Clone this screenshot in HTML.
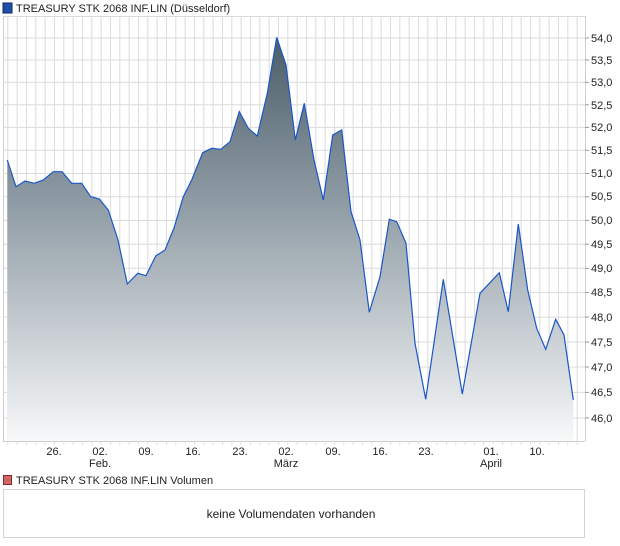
<!DOCTYPE html>
<html><head><meta charset="utf-8"><style>
body{margin:0;background:#fff;width:620px;height:546px;overflow:hidden;font-family:"Liberation Sans",sans-serif}
</style></head><body>
<svg width="620" height="546" xmlns="http://www.w3.org/2000/svg" style="position:absolute;left:0;top:0">
<defs>
<linearGradient id="g" x1="0" y1="37" x2="0" y2="441" gradientUnits="userSpaceOnUse">
<stop offset="0" stop-color="#4b5d69"/>
<stop offset="0.4" stop-color="#8d9aa3"/>
<stop offset="1" stop-color="#f7f8f9"/>
</linearGradient>
<pattern id="vg" x="7.3" y="0" width="9.3333" height="10" patternUnits="userSpaceOnUse">
<rect x="0" y="0" width="1" height="10" fill="#dcdcdc"/>
</pattern>
</defs>
<rect x="3" y="3" width="9" height="10" fill="#1f4fa8" stroke="#0d2a66" stroke-width="1"/>
<text x="16" y="12" font-size="11" fill="#222">TREASURY STK 2068 INF.LIN (Düsseldorf)</text>
<rect x="4" y="16" width="581" height="425" fill="url(#vg)"/>
<g stroke="#dcdcdc" stroke-width="1">
<line x1="3" x2="585" y1="16.5" y2="16.5"/>
<line x1="3" x2="585" y1="38" y2="38"/><line x1="3" x2="585" y1="60" y2="60"/><line x1="3" x2="585" y1="82.3" y2="82.3"/><line x1="3" x2="585" y1="104.8" y2="104.8"/><line x1="3" x2="585" y1="127.4" y2="127.4"/><line x1="3" x2="585" y1="150.3" y2="150.3"/><line x1="3" x2="585" y1="173.5" y2="173.5"/><line x1="3" x2="585" y1="196.8" y2="196.8"/><line x1="3" x2="585" y1="220.4" y2="220.4"/><line x1="3" x2="585" y1="244.2" y2="244.2"/><line x1="3" x2="585" y1="268.3" y2="268.3"/><line x1="3" x2="585" y1="292.6" y2="292.6"/><line x1="3" x2="585" y1="317.1" y2="317.1"/><line x1="3" x2="585" y1="342" y2="342"/><line x1="3" x2="585" y1="367" y2="367"/><line x1="3" x2="585" y1="392.4" y2="392.4"/><line x1="3" x2="585" y1="418" y2="418"/>
</g>
<polygon fill="url(#g)" points="7.3,441 7.3,160 16,186.7 25,181 34.3,183.3 43.3,180 53.3,171.7 62,171.7 71.7,183.3 81.7,183.3 90.7,196.7 99.3,199 108.3,210 118,240 127.3,284 137.7,273.3 146,275.7 155.7,256 165,250 174,228 183.3,196.7 191.7,180 202.7,152.7 211.7,148.3 220.7,149.3 230,141.7 239.3,111.7 248.3,128.3 257.3,136 267.3,93.3 276.7,37.3 286,65 295.3,140 304.3,103.3 314,160 323.3,200 332.7,135 341.7,130 351,211.7 360,240 369.3,312.3 380,276.7 389.3,219.3 396.7,221.7 406,243.3 415,343.3 425.7,399.3 443.3,279.3 462.3,394 480,293.3 499.3,272.7 508.3,311.7 518.3,224 527.7,290 536.7,328.3 545.7,349.3 555.7,319.3 564,335 573.3,400 573.3,441"/>
<polyline fill="none" stroke="#1a56c8" stroke-width="1.2" points="7.3,160 16,186.7 25,181 34.3,183.3 43.3,180 53.3,171.7 62,171.7 71.7,183.3 81.7,183.3 90.7,196.7 99.3,199 108.3,210 118,240 127.3,284 137.7,273.3 146,275.7 155.7,256 165,250 174,228 183.3,196.7 191.7,180 202.7,152.7 211.7,148.3 220.7,149.3 230,141.7 239.3,111.7 248.3,128.3 257.3,136 267.3,93.3 276.7,37.3 286,65 295.3,140 304.3,103.3 314,160 323.3,200 332.7,135 341.7,130 351,211.7 360,240 369.3,312.3 380,276.7 389.3,219.3 396.7,221.7 406,243.3 415,343.3 425.7,399.3 443.3,279.3 462.3,394 480,293.3 499.3,272.7 508.3,311.7 518.3,224 527.7,290 536.7,328.3 545.7,349.3 555.7,319.3 564,335 573.3,400"/>
<g stroke="#cfcfcf" stroke-width="1">
<line x1="3.5" x2="3.5" y1="16" y2="441"/>
<line x1="3" x2="585" y1="441.5" y2="441.5"/>
<line x1="585.5" x2="585.5" y1="16" y2="441"/>
</g>
<g stroke="#999" stroke-width="1">
<line x1="585" x2="589" y1="38" y2="38"/><line x1="585" x2="589" y1="60" y2="60"/><line x1="585" x2="589" y1="82.3" y2="82.3"/><line x1="585" x2="589" y1="104.8" y2="104.8"/><line x1="585" x2="589" y1="127.4" y2="127.4"/><line x1="585" x2="589" y1="150.3" y2="150.3"/><line x1="585" x2="589" y1="173.5" y2="173.5"/><line x1="585" x2="589" y1="196.8" y2="196.8"/><line x1="585" x2="589" y1="220.4" y2="220.4"/><line x1="585" x2="589" y1="244.2" y2="244.2"/><line x1="585" x2="589" y1="268.3" y2="268.3"/><line x1="585" x2="589" y1="292.6" y2="292.6"/><line x1="585" x2="589" y1="317.1" y2="317.1"/><line x1="585" x2="589" y1="342" y2="342"/><line x1="585" x2="589" y1="367" y2="367"/><line x1="585" x2="589" y1="392.4" y2="392.4"/><line x1="585" x2="589" y1="418" y2="418"/>
</g>
<g font-size="11" fill="#222">
<text x="591" y="42">54,0</text><text x="591" y="64">53,5</text><text x="591" y="86">53,0</text><text x="591" y="109">52,5</text><text x="591" y="131">52,0</text><text x="591" y="154">51,5</text><text x="591" y="177">51,0</text><text x="591" y="200">50,5</text><text x="591" y="224">50,0</text><text x="591" y="248">49,5</text><text x="591" y="272">49,0</text><text x="591" y="296">48,5</text><text x="591" y="321">48,0</text><text x="591" y="346">47,5</text><text x="591" y="371">47,0</text><text x="591" y="396">46,5</text><text x="591" y="422">46,0</text>
</g>
<rect x="4" y="442" width="581" height="3" fill="url(#vg)" opacity="0.9"/>
<g font-size="11" fill="#222" text-anchor="middle">
<text x="54" y="455">26.</text><text x="100" y="455">02.</text><text x="146" y="455">09.</text><text x="193" y="455">16.</text><text x="240" y="455">23.</text><text x="286" y="455">02.</text><text x="333" y="455">09.</text><text x="380" y="455">16.</text><text x="426" y="455">23.</text><text x="491" y="455">01.</text><text x="537" y="455">10.</text>
<text x="100" y="467">Feb.</text><text x="286" y="467">März</text><text x="491" y="467">April</text>
</g>
<rect x="3.5" y="475.5" width="8" height="9" fill="#d36565" stroke="#7a2a2a" stroke-width="1"/>
<text x="16" y="484" font-size="11" fill="#222">TREASURY STK 2068 INF.LIN Volumen</text>
<rect x="3.5" y="489.5" width="581" height="48" fill="#fff" stroke="#d4d4d4" stroke-width="1"/>
<text x="291" y="518" font-size="12" fill="#222" text-anchor="middle">keine Volumendaten vorhanden</text>
</svg>
</body></html>
